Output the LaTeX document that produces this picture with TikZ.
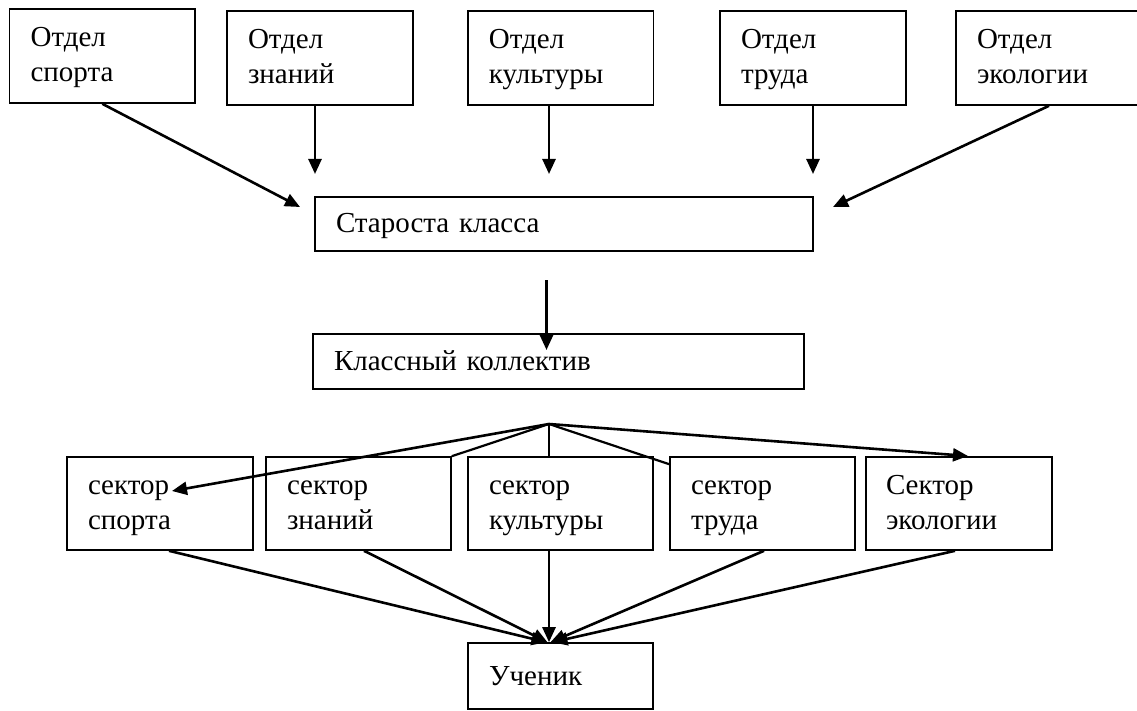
\documentclass[tikz,border=0pt]{standalone}
\usepackage{fontspec}
\setmainfont{Liberation Serif}
\usetikzlibrary{arrows.meta}
\tikzset{
  box/.style={draw, line width=1.6pt, align=left, inner xsep=21pt, inner ysep=0pt,
    font=\fontsize{29}{35}\selectfont, text height=22pt, text depth=40pt},
  one/.style={box, text height=22pt, text depth=4pt},
  sect/.style={box, minimum height=93pt},
  arr/.style={line width=2.6pt, -{Triangle[length=15pt,width=13pt]}},
  ln/.style={line width=2.2pt}
}
\begin{document}
\begin{tikzpicture}[x=1pt,y=-1pt]
    \useasboundingbox (0,0) rectangle (1137,711);
    \node[box, text width=143.4pt, minimum height=94pt] (d1) at (102.3,56) {Отдел\\спорта};
    \node[box, text width=144pt, minimum height=94pt] (d2) at (320,58) {Отдел\\знаний};
    \node[box, text width=143.5pt, minimum height=94pt] (d3) at (560.7,58) {Отдел\\культуры};
    \node[box, text width=144pt, minimum height=94pt] (d4) at (813,58) {Отдел\\труда};
    \node[box, text width=144pt, minimum height=94pt] (d5) at (1049,58) {Отдел\\экологии};
    \node[one, text width=456pt, minimum height=54pt] (st) at (564,224) {Староста класса};
    \node[one, text width=449pt, minimum height=55pt] (kk) at (558.5,361.5) {Классный коллектив};
    \node[sect, text width=144pt] (s1) at (160,503.5) {сектор\\спорта};
    \node[sect, text width=143pt] (s2) at (358.5,503.5) {сектор\\знаний};
    \node[sect, text width=143pt] (s3) at (560.5,503.5) {сектор\\культуры};
    \node[sect, text width=143pt] (s4) at (762.5,503.5) {сектор\\труда};
    \node[sect, text width=146pt, inner xsep=20pt] (s5) at (959,503.5) {Сектор\\экологии};
    \node[one, text width=143pt, minimum height=66pt] (u) at (560.5,676) {Ученик};
    \coordinate (t1) at (300,207);
    \coordinate (t2) at (315,174);
    \coordinate (t3) at (549,174);
    \coordinate (t5) at (833,207);
    \coordinate (c0) at (546.5,280);
    \coordinate (c1) at (546.5,350);
    \coordinate (apex) at (549,424);
    \coordinate (t6) at (172,491);
    \coordinate (t7) at (968,456);
    \draw[arr] (d1.south) -- (t1);
    \draw[arr] (d2.south -| t2) -- (t2);
    \draw[arr] (d3.south -| t3) -- (t3);
    \draw[arr] (d4.south) -- (d4.south |- t3);
    \draw[arr] (d5.south) -- (t5);
    \draw[arr] (c0) -- (c1);
    \draw[arr] (apex) -- (t6);
    \draw[ln] (apex) -- (s2.north east);
    \draw[ln] (apex) -- (apex |- s3.north);
    \draw[ln] (apex) -- ([yshift=-8pt]s4.north west);
    \draw[arr] (apex) -- (t7);
    \draw[arr] ([xshift=9pt]s1.south) -- ([xshift=-14pt]u.north);
    \draw[arr] ([xshift=5.5pt]s2.south) -- ([xshift=-13pt]u.north);
    \draw[arr] ([xshift=-11.5pt]s3.south) -- ([xshift=-11.5pt]u.north);
    \draw[arr] ([xshift=1.5pt]s4.south) -- ([xshift=-10pt]u.north);
    \draw[arr] ([xshift=-4pt]s5.south) -- ([xshift=-8pt]u.north);
\end{tikzpicture}
\end{document}
